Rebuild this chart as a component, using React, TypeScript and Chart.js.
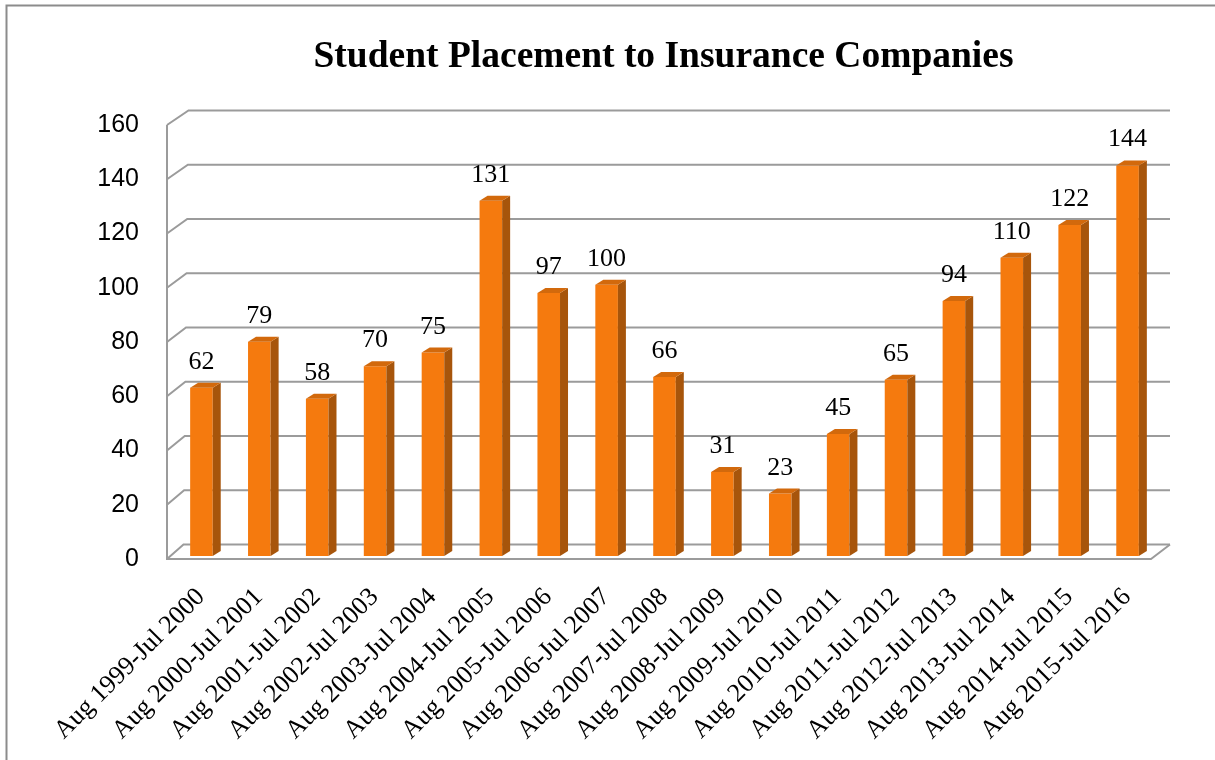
import React, { useEffect, useRef } from 'react';
import { Chart, registerables } from 'chart.js';

Chart.register(...registerables);

const chartTitle = 'Student Placement to Insurance Companies';

const categories = [
  'Aug 1999-Jul 2000',
  'Aug 2000-Jul 2001',
  'Aug 2001-Jul 2002',
  'Aug 2002-Jul 2003',
  'Aug 2003-Jul 2004',
  'Aug 2004-Jul 2005',
  'Aug 2005-Jul 2006',
  'Aug 2006-Jul 2007',
  'Aug 2007-Jul 2008',
  'Aug 2008-Jul 2009',
  'Aug 2009-Jul 2010',
  'Aug 2010-Jul 2011',
  'Aug 2011-Jul 2012',
  'Aug 2012-Jul 2013',
  'Aug 2013-Jul 2014',
  'Aug 2014-Jul 2015',
  'Aug 2015-Jul 2016',
];

const placements = [62, 79, 58, 70, 75, 131, 97, 100, 66, 31, 23, 45, 65, 94, 110, 122, 144];

const yTickValues = [0, 20, 40, 60, 80, 100, 120, 140, 160];

// style constants
const W = 1215;
const H = 760;
const FRONT = '#F57A0E';
const SIDE = '#A7550B';
const TOPC = '#D2690C';
const GRID = '#9b9b9b';
const FRAME = '#8c8c8c';
const WALL_DX_TOP = 21.5;
const WALL_DX_BOTTOM = 16.5;
const WALL_DY = -14.5;
const WALL_DX_RIGHT = 19;
const BAR_SHIFT_X = 5.5;
const BAR_SHIFT_Y = -3;
const BAR_DEPTH_X = 8;
const BAR_DEPTH_Y = -5;
const SERIF = '"Liberation Serif", "Times New Roman", serif';

const excel3d = {
  id: 'excel3d',
  beforeDraw(chart: any) {
    const ctx = chart.ctx;
    ctx.save();
    ctx.strokeStyle = FRAME;
    ctx.lineWidth = 2;
    ctx.beginPath();
    ctx.moveTo(W, 5.5);
    ctx.lineTo(6.5, 5.5);
    ctx.lineTo(6.5, H);
    ctx.stroke();
    ctx.restore();
  },
  beforeDatasetsDraw(chart: any) {
    const ctx = chart.ctx;
    const { left, right, top, bottom } = chart.chartArea;
    const y = chart.scales.y;
    ctx.save();
    ctx.strokeStyle = GRID;
    ctx.lineWidth = 2;
    y.ticks.forEach((t: any) => {
      const py = y.getPixelForValue(t.value);
      const frac = (t.value - y.min) / (y.max - y.min);
      const dx = WALL_DX_BOTTOM + (WALL_DX_TOP - WALL_DX_BOTTOM) * frac;
      ctx.beginPath();
      ctx.moveTo(left, py);
      ctx.lineTo(left + dx, py + WALL_DY);
      ctx.lineTo(right + WALL_DX_RIGHT, py + WALL_DY);
      ctx.stroke();
    });
    ctx.beginPath();
    ctx.moveTo(left, top);
    ctx.lineTo(left, bottom);
    ctx.lineTo(right, bottom);
    ctx.lineTo(right + WALL_DX_RIGHT, bottom + WALL_DY);
    ctx.stroke();
    ctx.restore();
    ctx.save();
    ctx.translate(BAR_SHIFT_X, BAR_SHIFT_Y);
  },
  afterDatasetsDraw(chart: any) {
    const ctx = chart.ctx;
    const meta = chart.getDatasetMeta(0);
    meta.data.forEach((bar: any) => {
      const l = bar.x - bar.width / 2;
      const r = bar.x + bar.width / 2;
      const t = bar.y;
      const b = bar.base;
      ctx.fillStyle = SIDE;
      ctx.beginPath();
      ctx.moveTo(r, t);
      ctx.lineTo(r + BAR_DEPTH_X, t + BAR_DEPTH_Y);
      ctx.lineTo(r + BAR_DEPTH_X, b + BAR_DEPTH_Y);
      ctx.lineTo(r, b);
      ctx.closePath();
      ctx.fill();
      ctx.fillStyle = TOPC;
      ctx.beginPath();
      ctx.moveTo(l, t);
      ctx.lineTo(l + BAR_DEPTH_X, t + BAR_DEPTH_Y);
      ctx.lineTo(r + BAR_DEPTH_X, t + BAR_DEPTH_Y);
      ctx.lineTo(r, t);
      ctx.closePath();
      ctx.fill();
    });
    ctx.restore();

    ctx.save();
    ctx.fillStyle = '#000';
    ctx.font = '26px ' + SERIF;
    ctx.textAlign = 'center';
    ctx.textBaseline = 'alphabetic';
    meta.data.forEach((bar: any, i: number) => {
      ctx.fillText(String(placements[i]), bar.x + BAR_SHIFT_X, bar.y + BAR_SHIFT_Y - 19);
    });
    ctx.restore();
  },
  afterDraw(chart: any) {
    const ctx = chart.ctx;
    ctx.save();
    ctx.fillStyle = '#000';
    ctx.font = 'bold 37.5px ' + SERIF;
    ctx.textAlign = 'center';
    ctx.textBaseline = 'alphabetic';
    ctx.fillText(chartTitle, 663.5, 67);
    ctx.restore();
  },
};

export default function App() {
  const canvasRef = useRef<HTMLCanvasElement | null>(null);

  useEffect(() => {
    const canvas = canvasRef.current;
    if (!canvas) return;
    const chart = new Chart(canvas, {
      type: 'bar',
      data: {
        labels: categories,
        datasets: [
          {
            label: 'Placements',
            data: placements,
            backgroundColor: FRONT,
            borderWidth: 0,
            barPercentage: 0.39,
            categoryPercentage: 1,
          },
        ],
      },
      options: {
        responsive: false,
        animation: false,
        events: [],
        layout: { padding: { top: 125, right: 64, left: 0, bottom: 0 } },
        plugins: {
          legend: { display: false },
          title: { display: false },
          tooltip: { enabled: false },
        },
        scales: {
          x: {
            grid: { display: false },
            border: { display: false },
            ticks: {
              color: '#000',
              font: { family: SERIF, size: 26 },
              minRotation: 45,
              maxRotation: 45,
              autoSkip: false,
              padding: 15,
              labelOffset: 5,
            },
            afterFit: (scale: any) => {
              scale.height = 201;
            },
          },
          y: {
            min: 0,
            max: 160,
            grid: { display: false, drawTicks: false },
            border: { display: false },
            afterBuildTicks: (scale: any) => {
              scale.ticks = yTickValues.map((v) => ({ value: v }));
            },
            ticks: {
              color: '#000',
              font: { family: '"Liberation Sans", Arial, sans-serif', size: 25 },
              padding: 28,
            },
            afterFit: (scale: any) => {
              scale.width = 167;
            },
          },
        },
      },
      plugins: [excel3d],
    });
    return () => chart.destroy();
  }, []);

  return (
    <div style={{ position: 'absolute', left: 0, top: 0, width: W, height: H, background: '#fff' }}>
      <canvas ref={canvasRef} width={W} height={H} style={{ display: 'block' }} />
    </div>
  );
}
